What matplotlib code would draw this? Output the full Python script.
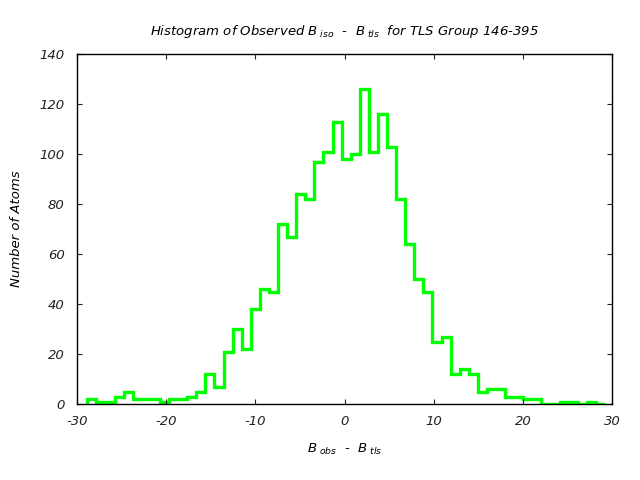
import numpy as np
import matplotlib
matplotlib.use("Agg")
import matplotlib.pyplot as plt

# histogram counts (57 bins)
counts = [2, 1, 1, 3, 5, 2, 2, 2, 1, 2,
          2, 3, 5, 12, 7, 21, 30, 22, 38, 46,
          45, 72, 67, 84, 82, 97, 101, 113, 98, 100,
          126, 101, 116, 103, 82, 64, 50, 45, 25, 27,
          12, 14, 12, 5, 6, 6, 3, 3, 2, 2,
          0, 0, 1, 1, 0, 1, 0]
b_lo = -28.84
b_hi = 29.21
xticks = [-30, -20, -10, 0, 10, 20, 30]
yticks = [0, 20, 40, 60, 80, 100, 120, 140]

plt.rcParams['font.family'] = 'DejaVu Sans'
plt.rcParams['font.style'] = 'italic'
plt.rcParams['mathtext.fontset'] = 'dejavusans'
plt.rcParams['axes.unicode_minus'] = False

edges = np.linspace(b_lo, b_hi, len(counts) + 1)

fig = plt.figure(figsize=(6.4, 4.8), dpi=100)
ax = fig.add_axes([0.1203, 0.1583, 0.8360, 0.7292])

ax.stairs(counts, edges, baseline=0, color='#00ff00', linewidth=2.4)

ax.set_xlim(-30, 30)
ax.set_ylim(0, 140)
ax.set_xticks(xticks)
ax.set_yticks(yticks)
ax.tick_params(direction='in', length=3.5, width=0.8, top=True, right=True,
               labelsize=9.5, colors='#222222')
ax.tick_params(axis='x', pad=8)
ax.tick_params(axis='y', pad=9)
for s in ax.spines.values():
    s.set_linewidth(1)

ax.set_title(r"Histogram of Observed $B_{\ iso}$  -  $B_{\ tls}$  for TLS Group 146-395",
             fontsize=9.5, pad=14)
ax.set_xlabel(r"$B_{\ obs}$  -  $B_{\ tls}$", fontsize=9.5, labelpad=10)
ax.set_ylabel("Number of Atoms", fontsize=9.5, labelpad=12)

fig.savefig("out.png", dpi=100)
